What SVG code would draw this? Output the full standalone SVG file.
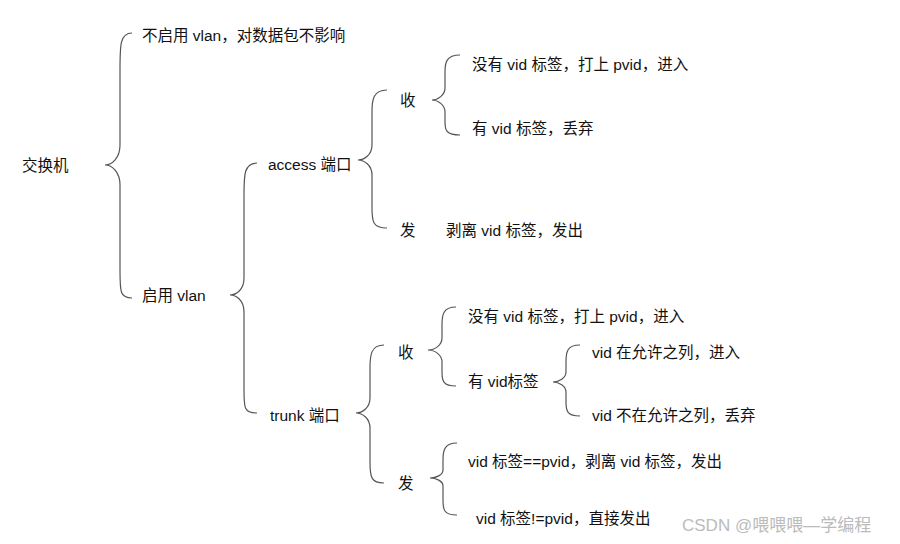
<svg xmlns="http://www.w3.org/2000/svg" width="900" height="544" viewBox="0 0 900 544">
<style>
.b{fill:none;stroke:#555;stroke-width:1.2}
text{font-family:"Liberation Sans","Noto Sans CJK SC",sans-serif;font-size:15.5px;fill:#111}
.w{font-size:17px;fill:#bbb}
</style>
<rect width="900" height="544" fill="#fff"/>
<g id="connectors">
<path class="b" d="M132,33 C120,33 120,45 120,70 L120,145 C120,158 112,165 105,165 C112,165 120,172 120,185 L120,270 C120,292 120,298 132,298"/>
<path class="b" d="M257,163 C244,163 244,175 244,195 L244,278 C244,290 236,295 230,295 C236,295 244,300 244,312 L244,390 C244,408 244,413 257,413"/>
<path class="b" d="M387,90 C373,90 372,100 372,112 L372,145 C372,155 364,160 358,160 C364,160 372,165 372,175 L372,208 C372,222 373,228 387,228"/>
<path class="b" d="M460,55 C446,55 445,63 445,72 L445,88 C445,95 438,100 432,100 C438,100 445,105 445,112 L445,122 C445,130 446,135 460,135"/>
<path class="b" d="M384,345 C371,345 370,355 370,368 L370,398 C370,408 362,413 356,413 C362,413 370,418 370,428 L370,462 C370,477 371,483 384,483"/>
<path class="b" d="M456,307 C443,307 442,315 442,325 L442,338 C442,345 435,350 428,350 C435,350 442,355 442,362 L442,372 C442,381 443,386 456,386"/>
<path class="b" d="M580,345 C567,345 566,352 566,362 L566,372 C566,378 559,382 553,382 C559,382 566,386 566,392 L566,402 C566,411 567,416 580,416"/>
<path class="b" d="M457,443 C444,443 443,451 443,460 L443,470 C443,475 436,478 430,478 C436,478 443,481 443,486 L443,500 C443,510 444,515 457,515"/>
</g>
<g id="n-root"><text x="22" y="171">交换机</text></g>
<g id="n-novlan"><text x="142" y="41">不启用 vlan，对数据包不影响</text></g>
<g id="n-vlan"><text x="142" y="301">启用 vlan</text></g>
<g id="n-access"><text x="268" y="170">access 端口</text></g>
<g id="n-a-recv"><text x="400" y="106">收</text></g>
<g id="n-a-r1"><text x="472" y="70">没有 vid 标签，打上 pvid，进入</text></g>
<g id="n-a-r2"><text x="472" y="134">有 vid 标签，丢弃</text></g>
<g id="n-a-send"><text x="400" y="236">发</text></g>
<g id="n-a-s1"><text x="446" y="236">剥离 vid 标签，发出</text></g>
<g id="n-trunk"><text x="270" y="421">trunk 端口</text></g>
<g id="n-t-recv"><text x="398" y="358">收</text></g>
<g id="n-t-r1"><text x="468" y="322">没有 vid 标签，打上 pvid，进入</text></g>
<g id="n-t-r2"><text x="468" y="387">有 vid标签</text></g>
<g id="n-t-r2a"><text x="592" y="358">vid 在允许之列，进入</text></g>
<g id="n-t-r2b"><text x="592" y="421">vid 不在允许之列，丢弃</text></g>
<g id="n-t-send"><text x="398" y="489">发</text></g>
<g id="n-t-s1"><text x="468" y="467">vid 标签==pvid，剥离 vid 标签，发出</text></g>
<g id="n-t-s2"><text x="476" y="524">vid 标签!=pvid，直接发出</text></g>
<text class="w" x="682" y="531">CSDN @喂喂喂—学编程</text>
</svg>
